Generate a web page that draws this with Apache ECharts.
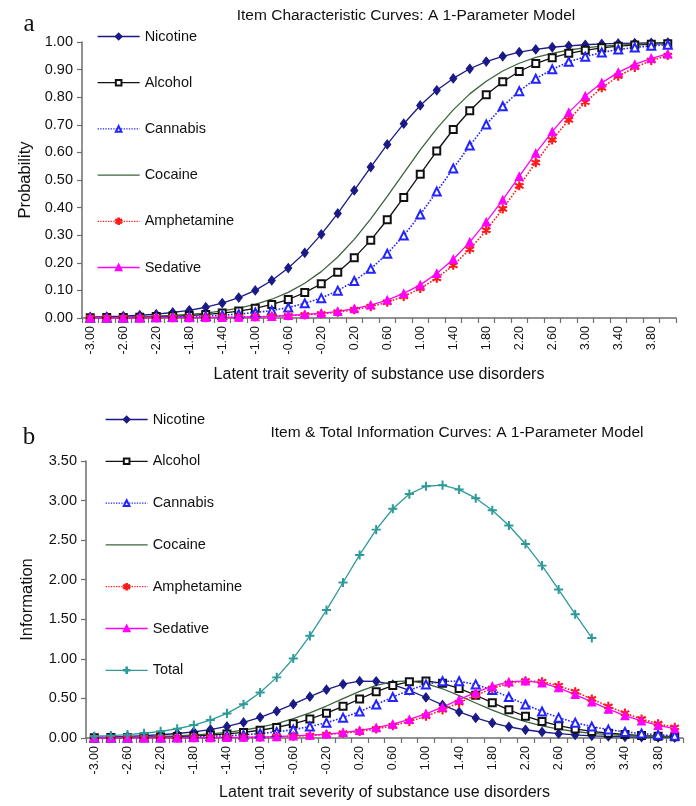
<!DOCTYPE html>
<html><head><meta charset="utf-8">
<script src="https://cdn.jsdelivr.net/npm/echarts@6.0.0/dist/echarts.min.js"></script>
<style>
html,body{margin:0;padding:0;background:#fff;width:696px;height:806px;overflow:hidden}
#ca{position:absolute;left:0;top:0;width:696px;height:395px}
#cb{position:absolute;left:0;top:390px;width:696px;height:416px}
</style>
</head><body>
<div id="ca"></div><div id="cb"></div>
<script>
const categories = ['-3.00','-2.80','-2.60','-2.40','-2.20','-2.00','-1.80','-1.60','-1.40','-1.20','-1.00','-0.80','-0.60','-0.40','-0.20','0.00','0.20','0.40','0.60','0.80','1.00','1.20','1.40','1.60','1.80','2.00','2.20','2.40','2.60','2.80','3.00','3.20','3.40','3.60','3.80','4.00'];

const nicotineP = [0.004,0.005,0.007,0.010,0.014,0.020,0.028,0.039,0.054,0.074,0.100,0.136,0.181,0.236,0.303,0.379,0.462,0.547,0.629,0.704,0.770,0.825,0.868,0.903,0.929,0.948,0.963,0.973,0.981,0.986,0.990,0.993,0.995,0.996,0.997,0.998];
const alcoholP = [0.001,0.002,0.002,0.003,0.005,0.007,0.009,0.013,0.018,0.025,0.035,0.049,0.067,0.092,0.124,0.166,0.218,0.282,0.356,0.437,0.521,0.605,0.683,0.751,0.809,0.856,0.893,0.922,0.943,0.959,0.970,0.979,0.985,0.989,0.992,0.994];
const cannabisP = [0.001,0.001,0.001,0.002,0.003,0.004,0.005,0.007,0.010,0.014,0.020,0.027,0.038,0.053,0.072,0.099,0.134,0.178,0.233,0.299,0.375,0.458,0.542,0.625,0.701,0.767,0.822,0.867,0.901,0.928,0.947,0.962,0.973,0.980,0.986,0.990];
const cocaineP = [0.002,0.002,0.003,0.005,0.007,0.009,0.013,0.018,0.026,0.036,0.049,0.068,0.093,0.126,0.168,0.221,0.285,0.359,0.441,0.525,0.609,0.686,0.754,0.812,0.858,0.895,0.923,0.944,0.959,0.971,0.979,0.985,0.989,0.992,0.995,0.996];
const amphetamineP = [0.000,0.000,0.000,0.000,0.001,0.001,0.001,0.001,0.002,0.003,0.004,0.006,0.008,0.011,0.015,0.021,0.030,0.041,0.057,0.078,0.107,0.144,0.191,0.249,0.318,0.395,0.479,0.563,0.645,0.718,0.782,0.834,0.876,0.908,0.933,0.951];
const sedativeP = [0.000,0.000,0.000,0.000,0.001,0.001,0.001,0.002,0.002,0.003,0.005,0.006,0.009,0.013,0.017,0.024,0.034,0.047,0.065,0.089,0.120,0.161,0.213,0.275,0.348,0.428,0.513,0.597,0.675,0.745,0.804,0.852,0.890,0.919,0.941,0.957];

const nicotineI = [0.011,0.015,0.021,0.029,0.041,0.057,0.078,0.107,0.146,0.197,0.261,0.339,0.427,0.522,0.610,0.680,0.718,0.716,0.675,0.602,0.512,0.418,0.330,0.254,0.191,0.142,0.104,0.076,0.055,0.039,0.028,0.020,0.014,0.010,0.007,0.005];
const alcoholI = [0.003,0.005,0.007,0.010,0.014,0.019,0.026,0.037,0.051,0.071,0.098,0.134,0.180,0.240,0.314,0.400,0.493,0.585,0.662,0.711,0.721,0.691,0.626,0.540,0.446,0.356,0.275,0.209,0.155,0.114,0.083,0.060,0.044,0.031,0.022,0.016];
const cannabisI = [0.002,0.003,0.004,0.005,0.007,0.011,0.015,0.021,0.029,0.040,0.056,0.077,0.106,0.144,0.194,0.257,0.334,0.423,0.517,0.606,0.677,0.717,0.717,0.677,0.606,0.517,0.423,0.334,0.257,0.194,0.144,0.106,0.077,0.056,0.040,0.029];
const cocaineI = [0.005,0.007,0.010,0.014,0.019,0.027,0.038,0.052,0.072,0.099,0.136,0.183,0.244,0.318,0.404,0.498,0.589,0.665,0.712,0.721,0.688,0.622,0.536,0.442,0.351,0.272,0.206,0.153,0.113,0.082,0.059,0.043,0.031,0.022,0.016,0.011];
const amphetamineI = [0.000,0.001,0.001,0.001,0.001,0.002,0.003,0.004,0.006,0.008,0.011,0.016,0.022,0.031,0.044,0.060,0.083,0.114,0.155,0.209,0.275,0.356,0.446,0.540,0.626,0.691,0.721,0.711,0.662,0.585,0.493,0.400,0.314,0.240,0.180,0.134];
const sedativeI = [0.000,0.001,0.001,0.001,0.002,0.002,0.003,0.005,0.007,0.009,0.013,0.018,0.026,0.036,0.050,0.069,0.095,0.130,0.175,0.234,0.306,0.391,0.484,0.576,0.655,0.708,0.722,0.696,0.634,0.549,0.456,0.364,0.283,0.215,0.160,0.118];
const totalI = [0.022,0.031,0.043,0.060,0.084,0.117,0.163,0.226,0.311,0.425,0.575,0.766,1.005,1.291,1.616,1.965,2.313,2.633,2.897,3.082,3.181,3.195,3.139,3.030,2.877,2.685,2.451,2.178,1.876,1.564,1.264];

const FONT = 'Arial';
const SERIF = 'Liberation Serif';
const AXIS_COLOR = '#6e6e6e';
const ASTERISK = 'path://M4.4,0L5.6,0L5.6,10L4.4,10Z M0.37,3.02L0.97,1.98L9.63,6.98L9.03,8.02Z M9.03,1.98L9.63,3.02L0.97,8.02L0.37,6.98Z';
const PLUS = 'path://M4.45,0H5.55V4.45H10V5.55H5.55V10H4.45V5.55H0V4.45H4.45Z';

const styles = {
  Nicotine:    {color:'#1a1a86', symbol:'diamond', symbolSize:[7,9], lineType:'solid', width:1.3},
  Alcohol:     {color:'#111111', symbol:'emptyRect', symbolSize:7, lineType:'solid', width:1.3},
  Cannabis:    {color:'#2323ff', symbol:'emptyTriangle', symbolSize:8, lineType:'dotted', width:1.6},
  Cocaine:     {color:'#3b633b', symbol:'none', symbolSize:0, lineType:'solid', width:1.3},
  Amphetamine: {color:'#ff1a1a', symbol:ASTERISK, symbolSize:8, lineType:'dotted', width:1.6},
  Sedative:    {color:'#ff00ff', symbol:'triangle', symbolSize:8, lineType:'solid', width:1.3},
  Total:       {color:'#2e9a9a', symbol:PLUS, symbolSize:8, lineType:'solid', width:1.3}
};

function mkSeries(name, data) {
  const s = styles[name];
  return {
    name, type:'line', data,
    symbol: s.symbol, symbolSize: s.symbolSize, showSymbol: s.symbol !== 'none',
    smooth: false,
    lineStyle: {color:s.color, width:s.width, type:s.lineType},
    itemStyle: {color:s.color, borderColor:s.color, borderWidth:1.1},
    emphasis: {disabled:true},
    animation:false
  };
}

function xAxisCfg(nameGap) {
  return {
    type:'category', data:categories, boundaryGap:true,
    name:'Latent trait severity of substance use disorders', nameLocation:'middle', nameGap,
    nameTextStyle:{fontFamily:FONT, fontSize:16, color:'#111'},
    axisLine:{show:true, lineStyle:{color:AXIS_COLOR, width:1.5}},
    axisTick:{show:true, interval:0, length:5, lineStyle:{color:AXIS_COLOR, width:1.2}},
    axisLabel:{interval:1, rotate:90, margin:8, fontFamily:FONT, fontSize:12.5, color:'#111'},
    splitLine:{show:false}
  };
}
function yAxisCfg(name, max, interval, nameGap) {
  return {
    type:'value', min:0, max, interval,
    name, nameLocation:'middle', nameGap, nameRotate:90,
    nameTextStyle:{fontFamily:FONT, fontSize:16.5, color:'#111'},
    axisLine:{show:true, lineStyle:{color:AXIS_COLOR, width:1.5}},
    axisTick:{show:true, length:5, lineStyle:{color:AXIS_COLOR, width:1.2}},
    axisLabel:{margin:9, fontFamily:FONT, fontSize:14.5, color:'#111', formatter:v => v.toFixed(2)},
    splitLine:{show:false}
  };
}
function legendCfg(names, left, top, gap) {
  return {
    orient:'vertical', left, top, itemWidth:42, itemHeight:7, itemGap:gap,
    data:names.map(n => n === 'Cocaine'
      ? {name:n, itemStyle:{color:'rgba(0,0,0,0)', borderColor:'rgba(0,0,0,0)', borderWidth:0}}
      : {name:n}),
    selectedMode:false,
    textStyle:{fontFamily:FONT, fontSize:14.5, color:'#111'},
    lineStyle:{width:1.3}
  };
}

const namesA = ['Nicotine','Alcohol','Cannabis','Cocaine','Amphetamine','Sedative'];
const chartA = echarts.init(document.getElementById('ca'), null, {renderer:'canvas'});
chartA.setOption({
  animation:false,
  backgroundColor:'#fff',
  grid:{left:82, right:20, top:42, bottom:77, outerBoundsMode:'none'},
  xAxis: xAxisCfg(49),
  yAxis: yAxisCfg('Probability', 1, 0.1, 47),
  legend: legendCfg(namesA, 92, 24, 31.2),
  graphic:[
    {type:'text', x:29, y:24, style:{text:'a', fontFamily:SERIF, fontSize:25, fill:'#111', align:'center', verticalAlign:'middle'}},
    {type:'text', x:406, y:16, style:{text:'Item Characteristic Curves: A 1-Parameter Model', fontFamily:FONT, fontSize:15.5, fill:'#111', align:'center', verticalAlign:'middle'}}
  ],
  series:[
    mkSeries('Nicotine', nicotineP),
    mkSeries('Alcohol', alcoholP),
    mkSeries('Cannabis', cannabisP),
    mkSeries('Cocaine', cocaineP),
    mkSeries('Amphetamine', amphetamineP),
    mkSeries('Sedative', sedativeP)
  ]
});

const namesB = ['Nicotine','Alcohol','Cannabis','Cocaine','Amphetamine','Sedative','Total'];
const chartB = echarts.init(document.getElementById('cb'), null, {renderer:'canvas'});
chartB.setOption({
  animation:false,
  backgroundColor:'#fff',
  grid:{left:86, right:13, top:71, bottom:68, outerBoundsMode:'none'},
  xAxis: xAxisCfg(47),
  yAxis: yAxisCfg('Information', 3.5, 0.5, 50),
  legend: legendCfg(namesB, 100, 17, 26.8),
  graphic:[
    {type:'text', x:29, y:47, style:{text:'b', fontFamily:SERIF, fontSize:25, fill:'#111', align:'center', verticalAlign:'middle'}},
    {type:'text', x:457, y:43, style:{text:'Item & Total Information Curves: A 1-Parameter Model', fontFamily:FONT, fontSize:15.5, fill:'#111', align:'center', verticalAlign:'middle'}}
  ],
  series:[
    mkSeries('Nicotine', nicotineI),
    mkSeries('Alcohol', alcoholI),
    mkSeries('Cannabis', cannabisI),
    mkSeries('Cocaine', cocaineI),
    mkSeries('Amphetamine', amphetamineI),
    mkSeries('Sedative', sedativeI),
    mkSeries('Total', totalI)
  ]
});
</script>
</body></html>
